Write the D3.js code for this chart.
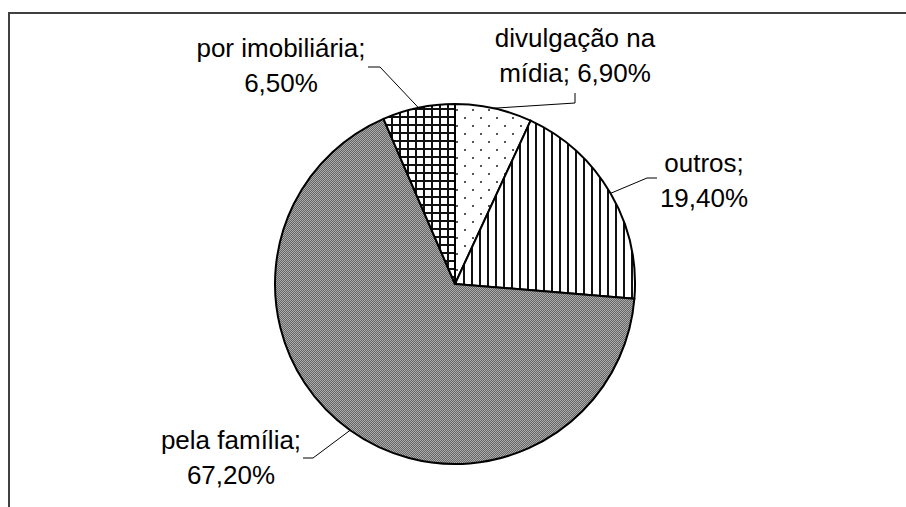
<!DOCTYPE html>
<html lang="pt">
<head>
    <meta charset="UTF-8">
    <title>Pie chart</title>
    <script src="https://d3js.org/d3.v7.min.js"></script>
    <style>
        body { margin: 0; background: #fff; }
        text { font-family: "Liberation Sans", Arial, sans-serif; font-size: 26px; fill: #000; }
        pattern rect { shape-rendering: crispEdges; }
    </style>
</head>
<body>
    <div id="chart"></div>
    <script>
        // Data
        const categories = ["divulgação na mídia", "outros", "pela família", "por imobiliária"];
        const values = [6.9, 19.4, 67.2, 6.5];
        const labelLines = [
            ["divulgação na", "mídia; "],
            ["outros;", ""],
            ["pela família;", ""],
            ["por imobiliária;", ""]
        ];
        const patterns = ["dots", "vlines", "checker", "grid"];

        const width = 906, height = 507;
        const cx = 455, cy = 284, radius = 180;

        // label layout: center x, first baseline, leader elbow points
        const labelPos = [
            { x: 575, y: 47, leader: [[575, 103], [575, 93]] },
            { x: 704, y: 172, leader: [[647, 178], [657, 178]] },
            { x: 231, y: 449, leader: [[313, 458], [303, 458]] },
            { x: 281, y: 57, leader: [[380, 67], [368, 67]] }
        ];

        const svg = d3.select("#chart").append("svg")
            .attr("width", width)
            .attr("height", height);

        // fill patterns
        const defs = svg.append("defs");
        const s = 8;

        const pDots = defs.append("pattern").attr("id", "dots")
            .attr("patternUnits", "userSpaceOnUse")
            .attr("width", s * 2).attr("height", s * 2);
        pDots.append("rect").attr("width", s * 2).attr("height", s * 2).attr("fill", "#fff");
        pDots.append("rect").attr("x", 1).attr("y", 1).attr("width", 2).attr("height", 2).attr("fill", "#555");
        pDots.append("rect").attr("x", 1 + s).attr("y", 1 + s).attr("width", 2).attr("height", 2).attr("fill", "#555");

        const pV = defs.append("pattern").attr("id", "vlines")
            .attr("patternUnits", "userSpaceOnUse")
            .attr("width", s).attr("height", s);
        pV.append("rect").attr("width", s).attr("height", s).attr("fill", "#fff");
        pV.append("rect").attr("x", 0).attr("width", 2).attr("height", s).attr("fill", "#111");

        const pC = defs.append("pattern").attr("id", "checker")
            .attr("patternUnits", "userSpaceOnUse")
            .attr("width", 2).attr("height", 2);
        pC.append("rect").attr("width", 2).attr("height", 2).attr("fill", "#ababab");
        pC.append("rect").attr("width", 1).attr("height", 1).attr("fill", "#666");
        pC.append("rect").attr("x", 1).attr("y", 1).attr("width", 1).attr("height", 1).attr("fill", "#666");

        const pG = defs.append("pattern").attr("id", "grid")
            .attr("patternUnits", "userSpaceOnUse")
            .attr("width", s).attr("height", s);
        pG.append("rect").attr("width", s).attr("height", s).attr("fill", "#fff");
        pG.append("rect").attr("width", 2).attr("height", s).attr("fill", "#111");
        pG.append("rect").attr("width", s).attr("height", 2).attr("fill", "#111");

        // frame (top and left edges)
        svg.append("line").attr("x1", 9).attr("x2", width).attr("y1", 13).attr("y2", 13)
            .attr("stroke", "#404040").attr("stroke-width", 2);
        svg.append("line").attr("x1", 9).attr("x2", 9).attr("y1", 12).attr("y2", height)
            .attr("stroke", "#404040").attr("stroke-width", 2);

        const pie = d3.pie().sort(null).value(d => d);
        const arcs = pie(values);
        const arc = d3.arc().innerRadius(0).outerRadius(radius);

        const g = svg.append("g").attr("transform", `translate(${cx},${cy})`);

        g.selectAll("path")
            .data(arcs)
            .join("path")
            .attr("d", arc)
            .attr("fill", (d, i) => `url(#${patterns[i]})`)
            .attr("stroke", "#000")
            .attr("stroke-width", 2)
            .attr("stroke-linejoin", "round");

        // leader lines
        arcs.forEach((d, i) => {
            const a = (d.startAngle + d.endAngle) / 2;
            const p0 = [cx + radius * Math.sin(a), cy - radius * Math.cos(a)];
            const pts = [p0].concat(labelPos[i].leader);
            svg.append("path")
                .attr("d", d3.line()(pts))
                .attr("fill", "none")
                .attr("stroke", "#000")
                .attr("stroke-width", 1);
        });

        // labels
        const fmt = v => d3.format(".2f")(v).replace(".", ",") + "%";
        arcs.forEach((d, i) => {
            const lp = labelPos[i];
            const lines = labelLines[i].slice();
            lines[1] = lines[1] + fmt(values[i]);
            const t = svg.append("text")
                .attr("text-anchor", "middle")
                .attr("x", lp.x).attr("y", lp.y);
            lines.forEach((ln, k) => {
                t.append("tspan").attr("x", lp.x).attr("dy", k === 0 ? 0 : 35).text(ln);
            });
        });
    </script>
</body>
</html>
